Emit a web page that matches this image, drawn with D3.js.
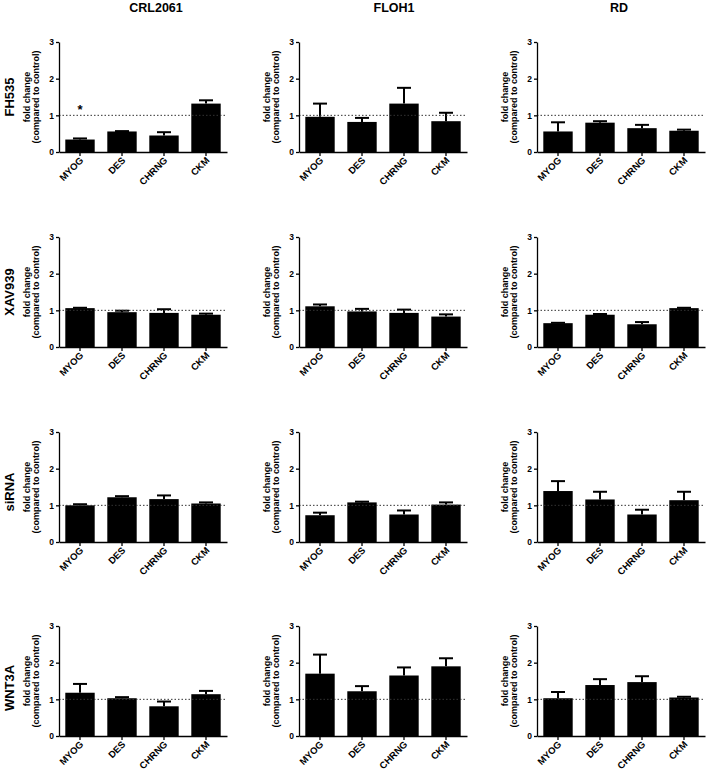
<!DOCTYPE html>
<html>
<head>
<meta charset="utf-8">
<script src="https://cdn.jsdelivr.net/npm/d3@7/dist/d3.min.js"></script>
<style>
  body { margin: 0; background: #fff; }
  svg { font-family: "Liberation Sans", Arial, sans-serif; }
</style>
</head>
<body>
<svg id="chart" width="708" height="773"></svg>
<script>
const genes = ["MYOG", "DES", "CHRNG", "CKM"];
const cellLines = ["CRL2061", "FLOH1", "RD"];
const treatments = ["FH535", "XAV939", "siRNA", "WNT3A"];
const yTicks = [0, 1, 2, 3];

// mean fold change per cell line (CRL2061, FLOH1, RD), genes in order above
const fh535Mean = [[0.34, 0.56, 0.45, 1.32], [0.96, 0.82, 1.32, 0.84], [0.56, 0.80, 0.65, 0.58]];
const fh535Err = [[0.03, 0.01, 0.09, 0.09], [0.36, 0.11, 0.43, 0.23], [0.25, 0.04, 0.09, 0.03]];
const xav939Mean = [[1.06, 0.95, 0.93, 0.88], [1.11, 0.97, 0.93, 0.83], [0.65, 0.88, 0.62, 1.06]];
const xav939Err = [[0.01, 0.04, 0.10, 0.03], [0.05, 0.07, 0.09, 0.06], [0.01, 0.02, 0.06, 0.01]];
const sirnaMean = [[1.00, 1.22, 1.17, 1.05], [0.73, 1.08, 0.75, 1.02], [1.39, 1.16, 0.75, 1.14]];
const sirnaErr = [[0.03, 0.03, 0.10, 0.03], [0.07, 0.02, 0.11, 0.06], [0.27, 0.21, 0.13, 0.23]];
const wnt3aMean = [[1.18, 1.03, 0.81, 1.14], [1.70, 1.22, 1.65, 1.90], [1.03, 1.39, 1.47, 1.05]];
const wnt3aErr = [[0.24, 0.03, 0.13, 0.09], [0.52, 0.14, 0.22, 0.22], [0.17, 0.16, 0.16, 0.02]];
// significance marks: [row, column, gene, y]
const stars = [[0, 0, "MYOG", 1.2]];

const means = [fh535Mean, xav939Mean, sirnaMean, wnt3aMean];
const errs = [fh535Err, xav939Err, sirnaErr, wnt3aErr];

const svg = d3.select("#chart");
const colX = [59, 299, 537];
const rowY = [42, 237, 432, 626];
const titleX = [156, 394, 619];
const rowLabelY = [97, 292, 492, 688];
const w = 168, h = 110;

cellLines.forEach((c, j) => {
  svg.append("text")
    .attr("x", titleX[j]).attr("y", 12)
    .attr("text-anchor", "middle")
    .attr("font-size", "12.5px").attr("font-weight", "bold")
    .text(c);
});

treatments.forEach((t, i) => {
  svg.append("text")
    .attr("transform", `translate(14, ${rowLabelY[i]}) rotate(-90)`)
    .attr("text-anchor", "middle")
    .attr("font-size", "13px").attr("font-weight", "bold")
    .text(t);
});

const drawPanel = (i, j) => {
  const g = svg.append("g").attr("transform", `translate(${colX[j]}, ${rowY[i]})`);
  const x = d3.scaleBand().domain(genes).range([0, w]).paddingInner(0.3).paddingOuter(0.15);
  const y = d3.scaleLinear().domain([0, 3]).range([h, 0]);
  const data = genes.map((gName, k) => ({ gene: gName, mean: means[i][j][k], err: errs[i][j][k] }));

  // error bars (upper only)
  const eb = g.append("g").attr("stroke", "#000").attr("stroke-width", 2);
  data.forEach((d) => {
    const cx = x(d.gene) + x.bandwidth() / 2;
    eb.append("line").attr("x1", cx).attr("x2", cx).attr("y1", y(d.mean)).attr("y2", y(d.mean + d.err));
    eb.append("line").attr("x1", cx - 7).attr("x2", cx + 7).attr("y1", y(d.mean + d.err)).attr("y2", y(d.mean + d.err));
  });

  g.selectAll("rect").data(data).enter().append("rect")
    .attr("x", (d) => x(d.gene))
    .attr("y", (d) => y(d.mean))
    .attr("width", x.bandwidth())
    .attr("height", (d) => y(0) - y(d.mean))
    .attr("fill", "#000");

  g.append("line")
    .attr("x1", 0).attr("x2", w).attr("y1", y(1)).attr("y2", y(1))
    .attr("stroke", "#333").attr("stroke-width", 1).attr("stroke-dasharray", "1.5,2");

  const yAxis = g.append("g").call(
    d3.axisLeft(y).tickValues(yTicks).tickFormat(d3.format("d")).tickSize(3).tickSizeOuter(0).tickPadding(2)
  );
  yAxis.selectAll("text").attr("font-size", "8.5px").attr("font-weight", "bold").attr("fill", "#000");
  yAxis.selectAll("line, path").attr("stroke", "#000").attr("stroke-width", 1.3);

  const xAxis = g.append("g").attr("transform", `translate(0, ${h})`)
    .call(d3.axisBottom(x).tickSize(4).tickSizeOuter(0).tickFormat(""));
  xAxis.selectAll("line, path").attr("stroke", "#000").attr("stroke-width", 1.3);

  // rotated gene labels, -45 degrees (CSS transform)
  g.append("g").selectAll("text").data(genes).enter().append("text")
    .style("transform", (d) =>
      `translate(${x(d) + x.bandwidth() / 2 + 4}px, ${h + 9}px) rotate(-45deg)`)
    .attr("text-anchor", "end")
    .attr("font-size", "9.5px").attr("font-weight", "bold")
    .text((d) => d);

  const lab = g.append("text")
    .attr("transform", `translate(-21, ${h / 2}) rotate(-90)`)
    .attr("text-anchor", "middle")
    .attr("font-size", "9px").attr("font-weight", "bold");
  lab.append("tspan").attr("x", 0).attr("dy", "-0.9em").text("fold change");
  lab.append("tspan").attr("x", 0).attr("dy", "1.0em").text("(compared to control)");

  stars.filter((s) => s[0] === i && s[1] === j).forEach((s) => {
    g.append("text")
      .attr("x", x(s[2]) + x.bandwidth() / 2).attr("y", y(s[3]) + 6)
      .attr("text-anchor", "middle")
      .attr("font-size", "13px").attr("font-weight", "bold")
      .text("*");
  });
};

treatments.forEach((t, i) => cellLines.forEach((c, j) => drawPanel(i, j)));
</script>
</body>
</html>
